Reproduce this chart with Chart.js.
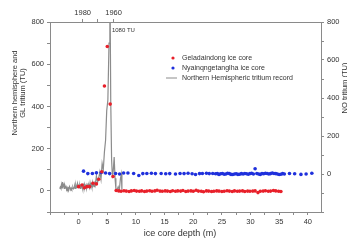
<!DOCTYPE html>
<html>
<head>
<meta charset="utf-8">
<script src="https://cdn.jsdelivr.net/npm/chart.js@4.4.1/dist/chart.umd.min.js"></script>
<style>
  html, body { margin: 0; padding: 0; background: #fff; }
  #wrap { width: 347px; height: 242px; }
</style>
</head>
<body>
<div id="wrap"><canvas id="chart" width="347" height="242"></canvas></div>
<script>
// Geladaindong ice core (left axis)
const redDepth = [0.0, 0.6, 1.0, 1.45, 1.9, 2.5, 3.1, 3.5, 4.05, 4.5, 5.0, 5.5, 6.0, 6.55, 7.0,
  7.4, 7.9, 8.3, 8.8, 9.2, 9.7, 10.1, 10.6, 11.0, 11.5, 11.9, 12.4, 12.8, 13.3, 13.7,
  14.2, 14.6, 15.1, 15.5, 16.0, 16.4, 16.9, 17.3, 17.8, 18.2, 18.7, 19.1, 19.6, 20.0, 20.5,
  20.9, 21.4, 21.8, 22.3, 22.7, 23.2, 23.6, 24.1, 24.5, 25.0, 25.4, 25.9, 26.3, 26.8, 27.2,
  27.7, 28.1, 28.6, 29.0, 29.5, 29.9, 30.4, 30.8, 31.3, 31.7, 32.2, 32.6, 33.1, 33.5, 34.0,
  34.4, 34.9, 35.3];
const redTU = [20, 28, 15, 20, 20, 36, 33, 55, 91, 497, 684, 411, 68, 2, 0,
  -2, 1, -1, -3, 0, 2, -1, -2, 0, -3, -1, 1, -2, 0, 3,
  -1, -2, 0, -1, -3, 1, -2, 0, -1, 2, -3, -1, 0, -2, 3,
  -1, -2, -4, 0, -1, -3, -2, 0, -1, -3, -2, 1, -1, -3, 0,
  -2, -1, 0, -3, -1, -2, -1, 0, -8, -2, -1, 1, -2, -1, 2,
  0, -2, -3];

// Nyainqngetanglha ice core (right axis)
const blueDepth = [0.85, 1.6, 2.4, 3.1, 3.95, 4.7, 5.4, 6.45, 7.15, 7.85, 8.6, 9.6, 10.5, 11.2, 11.9,
  12.7, 13.4, 14.4, 15.2, 15.9, 16.9, 17.7, 18.4, 19.1, 19.8, 20.4, 21.1, 21.6, 22.3, 22.8, 23.4, 23.9,
  24.2, 24.5, 24.8, 25.1, 25.4, 25.7, 26.0, 26.3, 26.6, 26.9, 27.2, 27.5, 27.8, 28.1, 28.4, 28.7,
  29.0, 29.3, 29.6, 29.9, 30.2, 30.5, 30.8, 31.1, 31.4, 31.7, 32.0, 32.3, 32.6, 32.9, 33.2, 33.5,
  33.8, 34.1, 34.4, 34.7, 35.0, 35.3, 35.6,
  35.9, 36.8, 37.7, 38.8, 39.7, 40.7];
const blueTU = [15, 2, 3, 6, 8, 5, 2, 3, 0, 5, 5, 3, -8, 2, 3,
  4, 2, 3, 1, 2, 0, 3, 2, 4, 1, -3, 2, 3, 4, 2, 3, 1,
  2, -2, 1, 3, -1, 0, 4, 2, -2, -3, 0, 1, -2, -1, 2, 0,
  3, 1, -1, 2, 4, 0, 28, 3, 0, -2, 2, 1, 4, 3, 0, 2,
  5, 3, 2, 0, -3, -1, 2,
  0, 3, 1, -2, 0, 4];

// Northern Hemispheric tritium record (left axis)
const grayDepth = [
  -3.3, -3.2, -3.1, -3.0, -2.9, -2.8, -2.7, -2.6, -2.5, -2.4,
  -2.3, -2.2, -2.1, -2.0, -1.9, -1.8, -1.7, -1.6, -1.5, -1.4,
  -1.3, -1.2, -1.1, -1.0, -0.9, -0.8, -0.7, -0.6, -0.5, -0.4,
  -0.3, -0.2, -0.1, 0.0, 0.1, 0.2, 0.3, 0.4, 0.5, 0.6,
  0.7, 0.8, 0.9, 1.0, 1.1, 1.2, 1.3, 1.4, 1.5, 1.6,
  1.7, 1.8, 1.9, 2.0, 2.1, 2.2, 2.3, 2.4, 2.5, 2.6,
  2.7, 2.8, 2.9,
  3.1, 3.3, 3.5, 3.7, 3.9, 4.1, 4.3, 4.5, 4.7, 4.9, 5.1, 5.3, 5.45,
  5.6, 5.75, 5.9, 6.05, 6.2, 6.35, 6.5, 6.7, 6.9, 7.1, 7.3, 7.45, 7.55];
const grayTU = [
  10, 18, 12, 30, 14, 42, 20, 35, 12, 25,
  15, 20, 10, 16, 8, 14, 10, 20, 12, 9,
  15, 8, 12, 18, 10, 14, 22, 12, 28, 15,
  20, 35, 18, 30, 15, 25, 12, 32, 18, 22,
  10, 26, 15, 30, 14, 20, 28, 12, 22, 35,
  18, 25, 15, 38, 22, 30, 18, 40, 25, 32,
  20, 45, 30,
  70, 40, 60, 90, 55, 130, 100, 185, 240, 380, 430, 700, 1080,
  430, 150, 60, 100, 160, 60, 10, 5, 20, 5, 60, 80, 5];

const seriesNames = ['Geladaindong ice core', 'Nyainqngetanglha ice core', 'Northern Hemispheric tritium record'];

const depthTicks = [-5, -2.5, 0, 2.5, 5, 7.5, 10, 12.5, 15, 17.5, 20, 22.5, 25, 27.5, 30, 32.5, 35, 37.5, 40];
const depthLabels = ['', '', '0', '', '5', '', '10', '', '15', '', '20', '', '25', '', '30', '', '35', '', '40'];
const yearTicks = [0.7, 3.3, 6.1];
const yearLabels = ['1980', '', '1960'];
const leftTicks = [-100, 0, 100, 200, 300, 400, 500, 600, 700, 800];
const leftLabels = ['', '0', '', '200', '', '400', '', '600', '', '800'];
const rightTicks = [-200, -100, 0, 100, 200, 300, 400, 500, 600, 700, 800];
const rightLabels = ['', '', '0', '', '200', '', '400', '', '600', '', '800'];
const peakNote = { depth: 5.8, tu: 760, text: '1080 TU' };

const FONT = '"Liberation Sans", Arial, sans-serif';
const AXIS = '#8a8a8a';
const TXT = '#333';

function pairs(xs, ys) { return xs.map((x, i) => ({ x: x, y: ys[i] })); }
function fixedTicks(values) { return s => { s.ticks = values.map(v => ({ value: v })); }; }

const axisBase = {
  type: 'linear',
  grid: { drawOnChartArea: false, color: AXIS, tickLength: 3, tickColor: AXIS },
  border: { color: AXIS, width: 1 },
};
const tickFont = { family: FONT, size: 7.5 };

const textPlugin = {
  id: 'texts',
  afterDraw(chart) {
    const ctx = chart.ctx;
    const xs = chart.scales.x, yl = chart.scales.y;
    ctx.save();
    ctx.fillStyle = TXT;
    ctx.textBaseline = 'middle';

    // left axis title
    ctx.save();
    ctx.translate(15, 93);
    ctx.rotate(-Math.PI / 2);
    ctx.textAlign = 'center';
    ctx.font = '7.5px ' + FONT;
    ctx.fillText('Northern hemisphere and', 0, 0);
    ctx.fillText('GL tritium (TU)', 0, 8);
    ctx.restore();

    // right axis title
    ctx.save();
    ctx.translate(345, 88);
    ctx.rotate(-Math.PI / 2);
    ctx.textAlign = 'center';
    ctx.font = '7.5px ' + FONT;
    ctx.fillText('NO tritium (TU)', 0, 0);
    ctx.restore();

    // bottom title
    ctx.textAlign = 'center';
    ctx.font = '9px ' + FONT;
    ctx.fillText('ice core depth (m)', 180, 234);

    // peak note
    ctx.textAlign = 'left';
    ctx.font = '6px ' + FONT;
    ctx.fillText(peakNote.text, xs.getPixelForValue(peakNote.depth), yl.getPixelForValue(peakNote.tu));

    // legend
    const lx = 173, ly = 58, gap = 10;
    ctx.font = '7px ' + FONT;
    chart.data.datasets.forEach((ds, i) => {
      const y = ly + i * gap;
      if (ds.showLine) {
        ctx.strokeStyle = ds.borderColor;
        ctx.lineWidth = 1;
        ctx.beginPath();
        ctx.moveTo(lx - 7, y);
        ctx.lineTo(lx + 4, y);
        ctx.stroke();
      } else {
        ctx.fillStyle = ds.backgroundColor;
        ctx.beginPath();
        ctx.arc(lx, y, 1.6, 0, Math.PI * 2);
        ctx.fill();
      }
      ctx.fillStyle = TXT;
      ctx.fillText(ds.label, lx + 9, y);
    });
    ctx.restore();
  }
};

new Chart(document.getElementById('chart'), {
  type: 'scatter',
  data: {
    datasets: [
      {
        label: seriesNames[0],
        data: pairs(redDepth, redTU),
        yAxisID: 'y',
        backgroundColor: '#e8202a',
        borderColor: '#e8202a',
        pointRadius: 1.8,
        pointBorderWidth: 0,
        order: 1,
      },
      {
        label: seriesNames[1],
        data: pairs(blueDepth, blueTU),
        yAxisID: 'y1',
        backgroundColor: '#1f30dc',
        borderColor: '#1f30dc',
        pointRadius: 1.8,
        pointBorderWidth: 0,
        order: 2,
      },
      {
        label: seriesNames[2],
        data: pairs(grayDepth, grayTU),
        yAxisID: 'y',
        showLine: true,
        borderColor: '#8c8c8c',
        backgroundColor: '#8c8c8c',
        borderWidth: 1.2,
        pointRadius: 0,
        order: 3,
      },
    ],
  },
  options: {
    responsive: false,
    devicePixelRatio: 1,
    animation: false,
    layout: { padding: 0 },
    plugins: { legend: { display: false }, tooltip: { enabled: false } },
    scales: {
      x: {
        ...axisBase, position: 'bottom', min: -5, max: 42.3,
        afterBuildTicks: fixedTicks(depthTicks),
        afterFit: s => { s.height = 30; },
        ticks: { font: tickFont, color: TXT, padding: 2, maxRotation: 0, autoSkip: false,
                 callback: (v, i) => depthLabels[i] },
      },
      x2: {
        ...axisBase, position: 'top', min: -5, max: 42.3,
        afterBuildTicks: fixedTicks(yearTicks),
        afterFit: s => { s.height = 22; },
        ticks: { font: tickFont, color: TXT, padding: 2, maxRotation: 0, autoSkip: false,
                 callback: (v, i) => yearLabels[i] },
      },
      y: {
        ...axisBase, position: 'left', min: -100, max: 800,
        afterBuildTicks: fixedTicks(leftTicks),
        afterFit: s => { s.width = 50; },
        ticks: { font: tickFont, color: TXT, padding: 3, autoSkip: false,
                 callback: (v, i) => leftLabels[i] },
      },
      y1: {
        ...axisBase, position: 'right', min: -200, max: 800,
        afterBuildTicks: fixedTicks(rightTicks),
        afterFit: s => { s.width = 26; },
        ticks: { font: tickFont, color: TXT, padding: 3, autoSkip: false,
                 callback: (v, i) => rightLabels[i] },
      },
    },
  },
  plugins: [textPlugin],
});
</script>
</body>
</html>
